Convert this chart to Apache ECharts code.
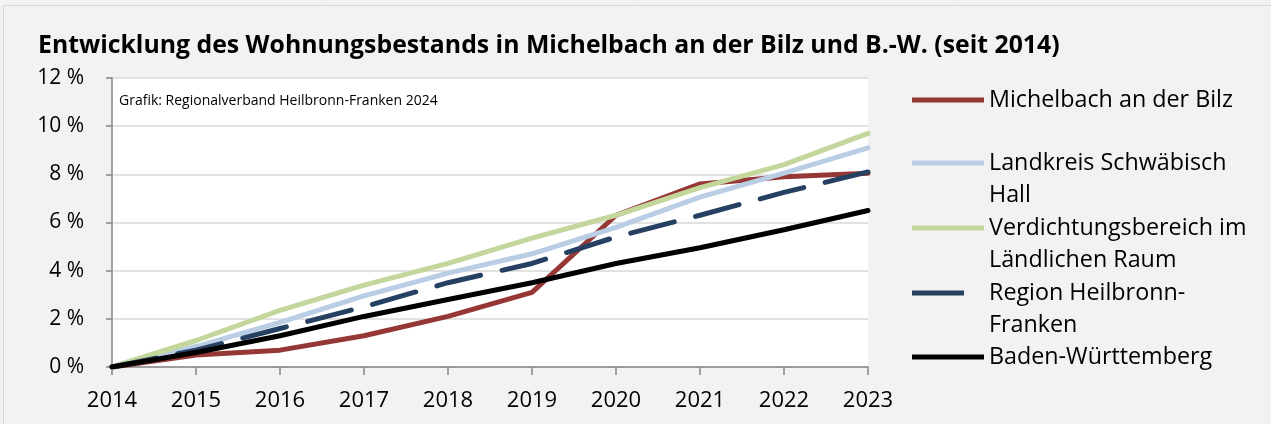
<!DOCTYPE html>
<html lang="de">
<head>
  <meta charset="UTF-8">
  <title>Wohnungsbestand Michelbach an der Bilz</title>
  <script src="https://cdn.jsdelivr.net/npm/echarts/dist/echarts.min.js"></script>
  <style>
    html, body { margin: 0; padding: 0; background: #f2f2f2; }
    #chart { width: 1271px; height: 424px; }
  </style>
</head>
<body>
<div id="chart"></div>
<script>
  // Jahre und Werte (Veränderung gegenüber 2014 in %)
  const years = ['2014', '2015', '2016', '2017', '2018', '2019', '2020', '2021', '2022', '2023'];
  const michelbach = [0, 0.5, 0.7, 1.3, 2.1, 3.1, 6.3, 7.6, 7.9, 8.05];
  const landkreis = [0, 0.85, 1.85, 2.95, 3.9, 4.7, 5.8, 7.05, 8.05, 9.1];
  const verdichtung = [0, 1.1, 2.35, 3.4, 4.3, 5.35, 6.3, 7.45, 8.4, 9.7];
  const region = [0, 0.7, 1.6, 2.5, 3.5, 4.3, 5.4, 6.3, 7.25, 8.1];
  const bw = [0, 0.6, 1.3, 2.1, 2.8, 3.5, 4.3, 4.95, 5.7, 6.5];

  const FONT = '"Open Sans", sans-serif';
  const chart = echarts.init(document.getElementById('chart'));

  function line(name, data, color, dashed) {
    return {
      name: name,
      type: 'line',
      data: data,
      symbol: 'none',
      lineStyle: {
        color: color,
        width: 5,
        type: dashed ? [45, 22] : 'solid',
        cap: 'round'
      },
      itemStyle: { color: color }
    };
  }

  // Legenden-Symbol: Balken oben, bei zweizeiligen Namen ein unsichtbarer Punkt unten,
  // damit der Strich auf Höhe der ersten Zeile sitzt
  function legendItem(name, label, top, twoLines, barLen) {
    const h = twoLines ? 37 : 5;
    let icon = 'path://M0,0L' + barLen + ',0L' + barLen + ',5L0,5Z';
    if (twoLines || barLen < 72) icon += ' M72,' + h + 'L72,' + h;
    return {
      data: [{ name: name, icon: icon }],
      left: 912,
      top: top,
      padding: 0,
      itemWidth: 72,
      itemHeight: h,
      itemGap: 0,
      itemStyle: { borderWidth: 0 },
      formatter: function () { return label; },
      textStyle: {
        fontFamily: FONT,
        fontSize: 23.3,
        color: '#000',
        lineHeight: 32
      }
    };
  }

  const option = {
    backgroundColor: '#f2f2f2',
    animation: false,
    title: {
      text: 'Entwicklung des Wohnungsbestands in Michelbach an der Bilz und B.-W. (seit 2014)',
      left: 33,
      top: 28,
      textStyle: { fontFamily: FONT, fontSize: 24.8, fontWeight: 'bold', color: '#000' }
    },
    graphic: [
      {
        type: 'rect',
        shape: { x: 3.5, y: 5.5, width: 1300, height: 450 },
        style: { fill: 'none', stroke: '#d9d9d9', lineWidth: 1 },
        silent: true
      },
      {
        type: 'text',
        left: 119,
        top: 94,
        style: {
          text: 'Grafik: Regionalverband Heilbronn-Franken 2024',
          fontFamily: FONT,
          fontSize: 14,
          fill: '#000'
        },
        z: 10
      }
    ],
    legend: [
      legendItem('Michelbach an der Bilz', 'Michelbach an der Bilz', 84, false, 72),
      legendItem('Landkreis Schwäbisch Hall', 'Landkreis Schwäbisch\nHall', 147, true, 72),
      legendItem('Verdichtungsbereich im Ländlichen Raum', 'Verdichtungsbereich im\nLändlichen Raum', 212, true, 72),
      legendItem('Region Heilbronn-Franken', 'Region Heilbronn-\nFranken', 277, true, 52),
      legendItem('Baden-Württemberg', 'Baden-Württemberg', 341, false, 72)
    ],
    grid: {
      left: 112,
      right: 403,
      top: 78,
      bottom: 57,
      show: true,
      backgroundColor: '#ffffff',
      borderWidth: 0
    },
    xAxis: {
      type: 'category',
      data: years,
      boundaryGap: false,
      axisLine: { lineStyle: { color: '#868686', width: 1.5 } },
      axisTick: { alignWithLabel: true, length: 8, lineStyle: { color: '#868686', width: 1.5 } },
      axisLabel: { fontFamily: FONT, fontSize: 22, color: '#000', margin: 23 },
      splitLine: { show: false }
    },
    yAxis: {
      type: 'value',
      min: 0,
      max: 12,
      interval: 2,
      axisLine: { show: true, lineStyle: { color: '#868686', width: 1.5 } },
      axisTick: { show: true, length: 6, lineStyle: { color: '#868686', width: 1.5 } },
      axisLabel: {
        fontFamily: FONT,
        fontSize: 21,
        color: '#000',
        margin: 28,
        padding: [5, 0, 0, 0],
        formatter: function (v) { return v + ' %'; }
      },
      splitLine: { lineStyle: { color: '#d9d9d9', width: 1.5 } }
    },
    series: [
      line('Michelbach an der Bilz', michelbach, '#953735', false),
      line('Landkreis Schwäbisch Hall', landkreis, '#b9cde5', false),
      line('Verdichtungsbereich im Ländlichen Raum', verdichtung, '#c3d69b', false),
      line('Region Heilbronn-Franken', region, '#254061', true),
      line('Baden-Württemberg', bw, '#000000', false)
    ]
  };

  chart.setOption(option);
</script>
</body>
</html>
